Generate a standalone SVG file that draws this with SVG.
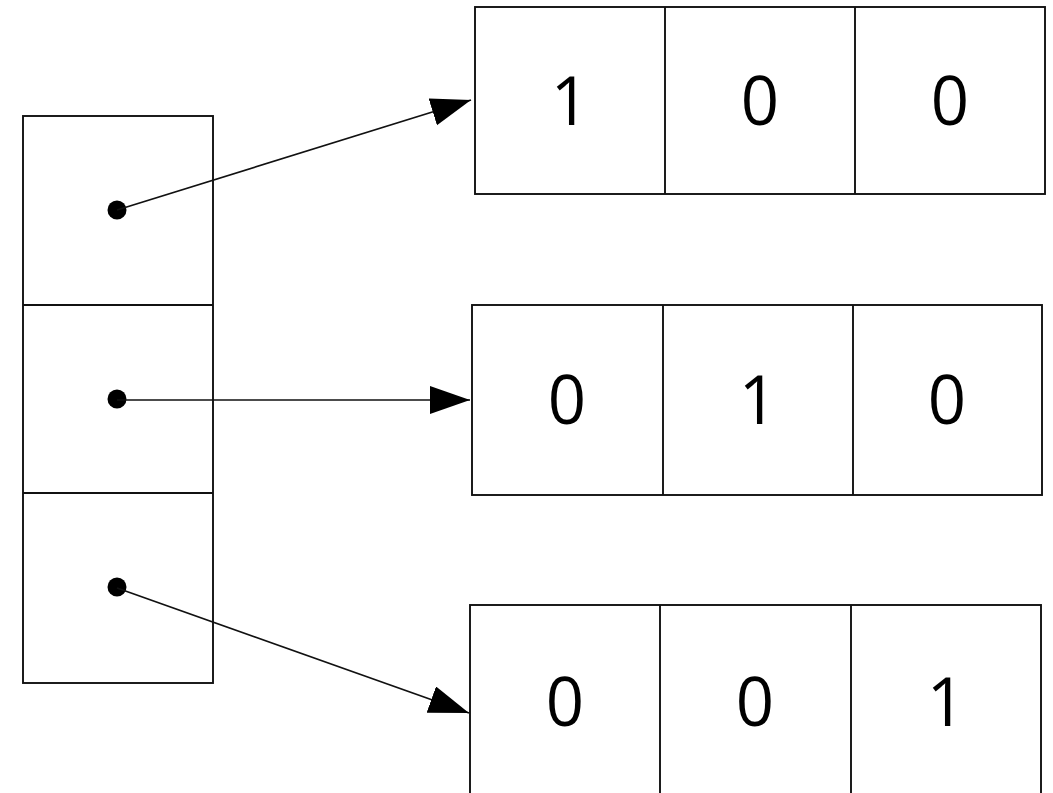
<svg xmlns="http://www.w3.org/2000/svg" width="1053" height="793" viewBox="0 0 1053 793">
<style>
.box{fill:#fff;stroke:#111;stroke-width:1.9}
.div{stroke:#111;stroke-width:1.9}
.num{font-family:"Open Sans","Liberation Sans",sans-serif;font-size:67px;fill:#000;text-anchor:middle}
.con{stroke:#111;stroke-width:1.7;fill:none}
.dot{fill:#000}
</style>
<defs>
<marker id="ah" markerUnits="userSpaceOnUse" markerWidth="42" markerHeight="30" refX="40" refY="14" orient="auto">
<path d="M0,0 L40,14 L0,28 Z" fill="#000"/>
</marker>
</defs>
<rect width="1053" height="793" fill="#fff"/>
<g id="pointer-array">
<rect class="box" x="23" y="116" width="190" height="567"/>
<line class="div" x1="23" y1="305" x2="213" y2="305"/>
<line class="div" x1="23" y1="493" x2="213" y2="493"/>
<circle class="dot" cx="117" cy="210" r="9.5"/>
<circle class="dot" cx="117" cy="399" r="9.5"/>
<circle class="dot" cx="117" cy="587" r="9.5"/>
</g>
<g id="row1">
<rect class="box" x="475" y="7" width="570" height="187"/>
<line class="div" x1="665" y1="7" x2="665" y2="194"/>
<line class="div" x1="855" y1="7" x2="855" y2="194"/>
<text class="num" x="570" y="125">1</text>
<text class="num" x="760" y="125">0</text>
<text class="num" x="950" y="125">0</text>
</g>
<g id="row2">
<rect class="box" x="472" y="305" width="570" height="190"/>
<line class="div" x1="663" y1="305" x2="663" y2="495"/>
<line class="div" x1="853" y1="305" x2="853" y2="495"/>
<text class="num" x="567" y="424">0</text>
<text class="num" x="758" y="424">1</text>
<text class="num" x="947" y="424">0</text>
</g>
<g id="row3">
<rect class="box" x="470" y="605" width="571" height="200"/>
<line class="div" x1="660" y1="605" x2="660" y2="805"/>
<line class="div" x1="851" y1="605" x2="851" y2="805"/>
<text class="num" x="565" y="726">0</text>
<text class="num" x="755" y="726">0</text>
<text class="num" x="946" y="726">1</text>
</g>
<g id="connectors">
<line class="con" x1="117" y1="210" x2="471" y2="100" marker-end="url(#ah)"/>
<line class="con" x1="117" y1="400" x2="470" y2="400" marker-end="url(#ah)"/>
<line class="con" x1="117" y1="588" x2="469" y2="713" marker-end="url(#ah)"/>
</g>
</svg>
